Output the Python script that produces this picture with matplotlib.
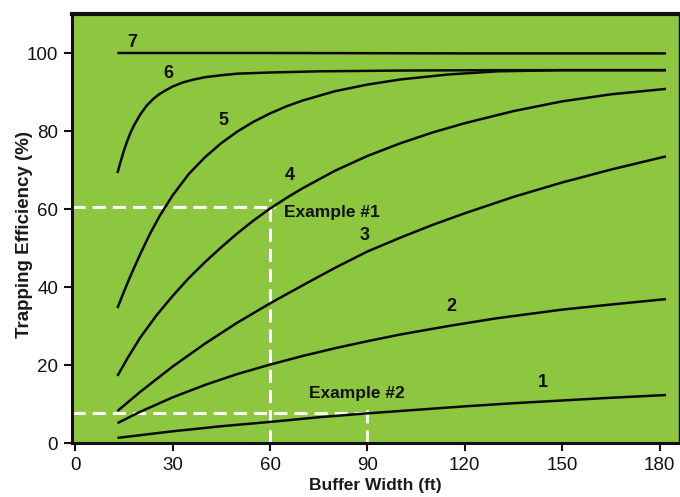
import matplotlib

matplotlib.use("Agg")
import matplotlib.pyplot as plt

# curves (buffer width in ft, trapping efficiency in %)
curve1_x = [13, 20, 30, 45, 60, 75, 90, 105, 120, 135, 150, 165, 182]
curve1_y = [1.3, 2.0, 3.0, 4.3, 5.4, 6.6, 7.6, 8.5, 9.4, 10.2, 10.9, 11.6, 12.3]

curve2_x = [13, 20, 30, 40, 50, 60, 70, 80, 90, 100, 115, 130, 150, 165, 182]
curve2_y = [5.1, 8.0, 11.7, 14.9, 17.7, 20.1, 22.3, 24.3, 26.1, 27.8, 30.0, 32.0, 34.2, 35.5, 36.9]

curve3_x = [13, 20, 30, 40, 50, 60, 70, 80, 90, 100, 110, 120, 135, 150, 165, 182]
curve3_y = [8.2, 13.1, 19.6, 25.5, 30.9, 35.8, 40.4, 44.9, 49.1, 52.6, 55.9, 58.9, 63.1, 66.8,
            70.1, 73.5]

curve4_x = [13, 16, 20, 25, 30, 35, 40, 45, 50, 55, 60, 65, 70, 80, 90, 100, 110, 120, 135,
            150, 165, 182]
curve4_y = [17.2, 21.6, 27.0, 32.7, 37.7, 42.3, 46.4, 50.2, 53.8, 57.1, 60.1, 62.8, 65.3, 69.8,
            73.6, 76.8, 79.6, 82.0, 85.1, 87.6, 89.4, 90.8]

curve5_x = [13, 15, 17, 20, 23, 26, 30, 35, 40, 45, 50, 55, 60, 65, 70, 80, 90, 100, 115, 130,
            150, 182]
curve5_y = [34.6, 38.8, 42.8, 48.4, 53.6, 58.2, 63.5, 69.0, 73.3, 76.9, 79.9, 82.4, 84.5, 86.3,
            87.8, 90.2, 91.9, 93.2, 94.5, 95.3, 95.6, 95.6]

curve6_x = [13, 14, 15, 16, 17, 18, 20, 22, 24, 26, 28, 30, 33, 36, 40, 45, 50, 60, 75, 100,
            130, 182]
curve6_y = [69.2, 72.2, 75.0, 77.4, 79.5, 81.3, 84.2, 86.5, 88.2, 89.5, 90.5, 91.4, 92.4, 93.1,
            93.8, 94.3, 94.7, 95.0, 95.3, 95.5, 95.6, 95.6]

curve7_x = [13, 60, 120, 182]
curve7_y = [100.0, 100.0, 99.9, 99.9]

curves = [
    (curve1_x, curve1_y), (curve2_x, curve2_y), (curve3_x, curve3_y), (curve4_x, curve4_y),
    (curve5_x, curve5_y), (curve6_x, curve6_y), (curve7_x, curve7_y),
]

# curve number labels
label_text = ["1", "2", "3", "4", "5", "6", "7"]
label_x = [144, 116, 89, 66, 45.5, 28.8, 17.6]
label_y = [15.4, 34.9, 53.3, 68.7, 82.8, 94.8, 102.6]

# worked examples
example_names = ["Example #1", "Example #2"]
example_x = [60, 90]
example_y = [60.5, 7.6]
example_text_x = [64.4, 72]
example_text_y = [59.2, 12.8]

x_ticks = [0, 30, 60, 90, 120, 150, 180]
y_ticks = [0, 20, 40, 60, 80, 100]

GREEN = "#8dc63f"
FONT = "Liberation Sans"

fig = plt.figure(figsize=(6.8, 4.97), dpi=100)
ax = fig.add_axes([72 / 680, 54 / 497, 607 / 680, 429 / 497])
ax.set_facecolor(GREEN)

for xs, ys in curves:
    ax.plot(xs, ys, color="#0a0a0a", lw=1.8, solid_capstyle="butt",
            solid_joinstyle="round", zorder=3)

for txt, lx, ly in zip(label_text, label_x, label_y):
    ax.text(lx, ly, txt, ha="center", va="center", fontsize=13, fontweight="bold",
            family=FONT, color="#111111", zorder=4)

dash = dict(color="white", lw=2.2, dashes=(4.3, 2.3), zorder=2)
for name, ex, ey, tx, ty in zip(example_names, example_x, example_y,
                                example_text_x, example_text_y):
    ax.plot([-1, ex + 1.5], [ey, ey], **dash)
    ax.plot([ex, ex], [0, ey + 2.0], **dash)
    ax.text(tx, ty, name, ha="left", va="center", fontsize=12.5, fontweight="bold",
            family=FONT, color="#111111", zorder=4)

ax.set_xlim(-1, 186)
ax.set_ylim(0, 110)
ax.set_xticks(x_ticks)
ax.set_yticks(y_ticks)
ax.tick_params(direction="out", length=6, width=1.5, color="#111111",
               labelsize=13.5, labelcolor="#111111", pad=4)
for lab in ax.get_xticklabels() + ax.get_yticklabels():
    lab.set_family(FONT)

ax.spines["top"].set_linewidth(3.0)
ax.spines["left"].set_linewidth(2.2)
ax.spines["bottom"].set_linewidth(2.2)
ax.spines["right"].set_linewidth(1.0)
for s in ax.spines.values():
    s.set_color("#111111")

ax.set_xlabel("Buffer Width (ft)", fontsize=12.5, fontweight="bold", family=FONT,
              color="#1a1a1a", labelpad=3)
ax.set_ylabel("Trapping Efficiency (%)", fontsize=13.5, fontweight="bold", family=FONT,
              color="#1a1a1a")
ax.yaxis.set_label_coords(-0.064, 0.485)

fig.savefig("out.png", dpi=100)
plt.close(fig)
